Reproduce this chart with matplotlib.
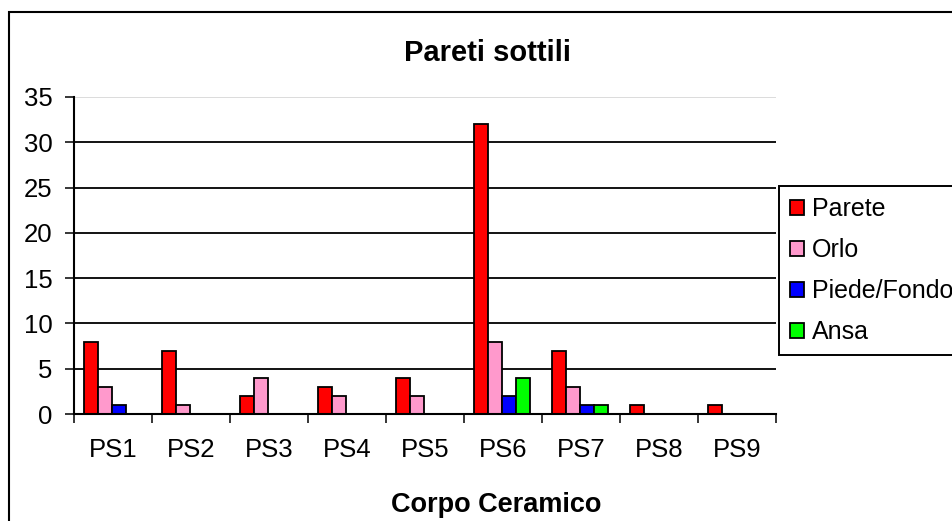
# Pareti sottili - bar chart per corpo ceramico
import numpy as np
import matplotlib
matplotlib.use('Agg')
from matplotlib import pyplot as plt
from matplotlib.patches import Rectangle

# Data
categories = ['PS1', 'PS2', 'PS3', 'PS4', 'PS5', 'PS6', 'PS7', 'PS8', 'PS9']
parete = [8, 7, 2, 3, 4, 32, 7, 1, 1]
orlo = [3, 1, 4, 2, 2, 8, 3, 0, 0]
piedeFondo = [1, 0, 0, 0, 0, 2, 1, 0, 0]
ansa = [0, 0, 0, 0, 0, 4, 1, 0, 0]
seriesNames = ['Parete', 'Orlo', 'Piede/Fondo', 'Ansa']
yTicks = [0, 5, 10, 15, 20, 25, 30, 35]

# Excel-ish colours
xlColours = ['#FF0000', '#FF99CC', '#0000FF', '#00FF00']

plt.rc('font', family=['Liberation Sans', 'DejaVu Sans'])

W, H = 952, 521
fig = plt.figure(figsize=(W / 100, H / 100), dpi=100)
fig.patch.set_facecolor('white')

# plot area in pixels: x 74..776, y 97..414
ax = fig.add_axes([74 / W, 1 - 414 / H, (776 - 74) / W, (414 - 97) / H])

x = np.arange(len(categories))
barW = 0.18
allSeries = [parete, orlo, piedeFondo, ansa]
for k, (vals, name, col) in enumerate(zip(allSeries, seriesNames, xlColours)):
    ax.bar(x + (k - 1.5) * barW - 0.01, vals, width=barW, color=col,
           edgecolor='black', linewidth=1.3, label=name, zorder=3)

ax.set_xlim(-0.5, len(categories) - 0.5)
ax.set_ylim(0, 35)
ax.set_yticks(yTicks)
ax.set_xticks(x)
ax.set_xticklabels(categories)
ax.set_xticks(np.arange(len(categories) + 1) - 0.5, minor=True)

ax.tick_params(axis='x', which='major', length=0, pad=17, labelsize=18.5)
ax.tick_params(axis='x', which='minor', length=6.5, width=1.1, direction='out')
ax.tick_params(axis='y', length=6.5, width=1.1, direction='out', pad=9, labelsize=18.5)

# gridlines black, top one light grey
ax.set_axisbelow(True)
ax.grid(axis='y', color='black', linewidth=1.3)
ax.get_ygridlines()[-1].set_color('#d9d9d9')

for s in ['top', 'right']:
    ax.spines[s].set_visible(False)
for s in ['left', 'bottom']:
    ax.spines[s].set_linewidth(1.5)
    ax.spines[s].set_zorder(4)

# titles as figure text (centred on the chart area, not the axes)
fig.text(488 / W, 1 - 61 / H, 'Pareti sottili', ha='center', va='baseline',
         fontsize=21, fontweight='bold')
fig.text(496 / W, 1 - 512 / H, 'Corpo Ceramico', ha='center', va='baseline',
         fontsize=19.5, fontweight='bold')

# legend, runs off the right edge like the original
leg = ax.legend(loc='upper left', bbox_to_anchor=(779 / W, 1 - 186 / H),
                bbox_transform=fig.transFigure, borderaxespad=0, fontsize=18,
                frameon=True, fancybox=False, shadow=False, borderpad=0.45,
                handlelength=0.55, handleheight=0.55, handletextpad=0.3,
                labelspacing=0.68)
leg.get_frame().set_edgecolor('black')
leg.get_frame().set_linewidth(1.4)
leg.get_frame().set_alpha(1)
for p in leg.get_patches():
    p.set_linewidth(1.3)

# outer chart border (cut by the image edge on right and bottom)
fig.patches.append(Rectangle((9 / W, -0.1), 1.2, (1 - 12 / H) + 0.1,
                             transform=fig.transFigure, fill=False,
                             edgecolor='black', linewidth=1.5))

fig.savefig('out.png', dpi=100)
